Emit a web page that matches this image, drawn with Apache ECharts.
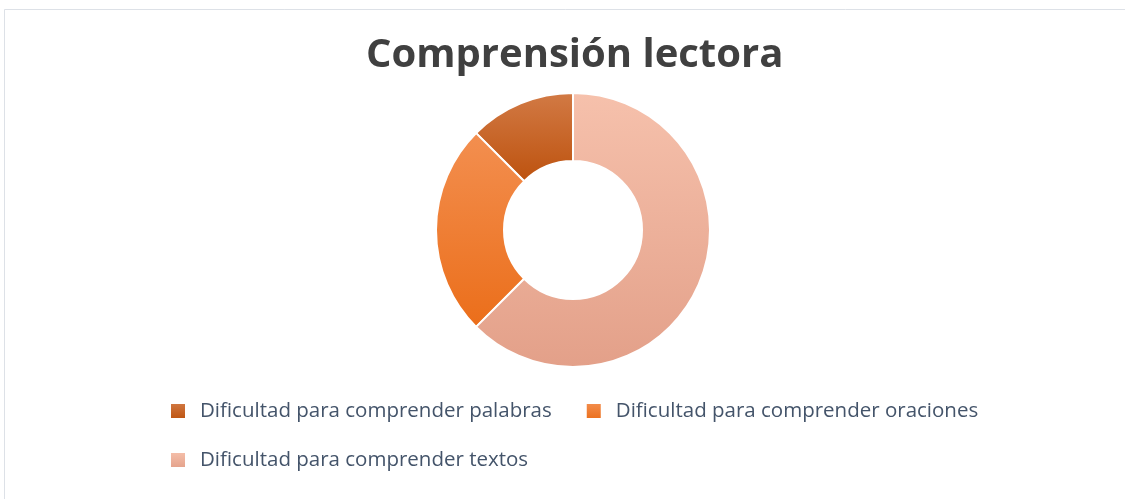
<!DOCTYPE html>
<html>
<head>
<meta charset="utf-8">
<script src="https://cdn.jsdelivr.net/npm/echarts@6/dist/echarts.min.js"></script>
<style>
html, body { margin: 0; padding: 0; background: #fff; }
#main { width: 1125px; height: 499px; }
</style>
</head>
<body>
<div id="main"></div>
<script>
// datos del grafico
var categorias = ['Dificultad para comprender palabras', 'Dificultad para comprender oraciones', 'Dificultad para comprender textos'];
var valores = [1, 2, 5];

// colores (degradado arriba -> abajo)
var coloresArriba = ['#d27a45', '#f38f50', '#f6c1ac'];
var coloresAbajo = ['#bd520e', '#eb6e1a', '#e3a089'];

function degradado(i) {
	return new echarts.graphic.LinearGradient(0, 0, 0, 1, [
		{ offset: 0, color: coloresArriba[i] },
		{ offset: 1, color: coloresAbajo[i] }
	]);
}

var datos = [];
for (var i = 0; i < categorias.length; i++) {
	datos.push({
		name: categorias[i],
		value: valores[i],
		itemStyle: { color: degradado(i) }
	});
}

var leyendaBase = {
	left: 169,
	padding: 0,
	itemWidth: 16,
	itemHeight: 16,
	itemGap: 33,
	icon: 'rect',
	textStyle: {
		fontFamily: 'Open Sans',
		fontSize: 20.5,
		lineHeight: 24,
		color: '#44546a',
		padding: [0, 0, 0, 9]
	}
};

var myChart = echarts.init(document.getElementById('main'));
var option = {
	backgroundColor: '#fff',
	title: {
		text: 'Comprensión lectora',
		left: 361,
		top: 31,
		textStyle: {
			fontFamily: 'Open Sans',
			fontWeight: 'bold',
			fontSize: 40,
			color: '#404040'
		}
	},
	graphic: [{
		type: 'rect',
		shape: { x: 4.5, y: 9.5, width: 1130, height: 500 },
		style: { fill: 'none', stroke: '#dde1e7', lineWidth: 1 },
		silent: true
	}],
	legend: [
		Object.assign({}, leyendaBase, { top: 399, data: [categorias[0], categorias[1]] }),
		Object.assign({}, leyendaBase, { top: 448, data: [categorias[2]] })
	],
	series: [{
		type: 'pie',
		center: [573, 230],
		radius: [69, 137],
		startAngle: 90,
		clockwise: false,
		label: { show: false },
		labelLine: { show: false },
		emphasis: { disabled: true },
		itemStyle: { borderColor: '#fff', borderWidth: 2 },
		data: datos
	}]
};
myChart.setOption(option);
</script>
</body>
</html>
